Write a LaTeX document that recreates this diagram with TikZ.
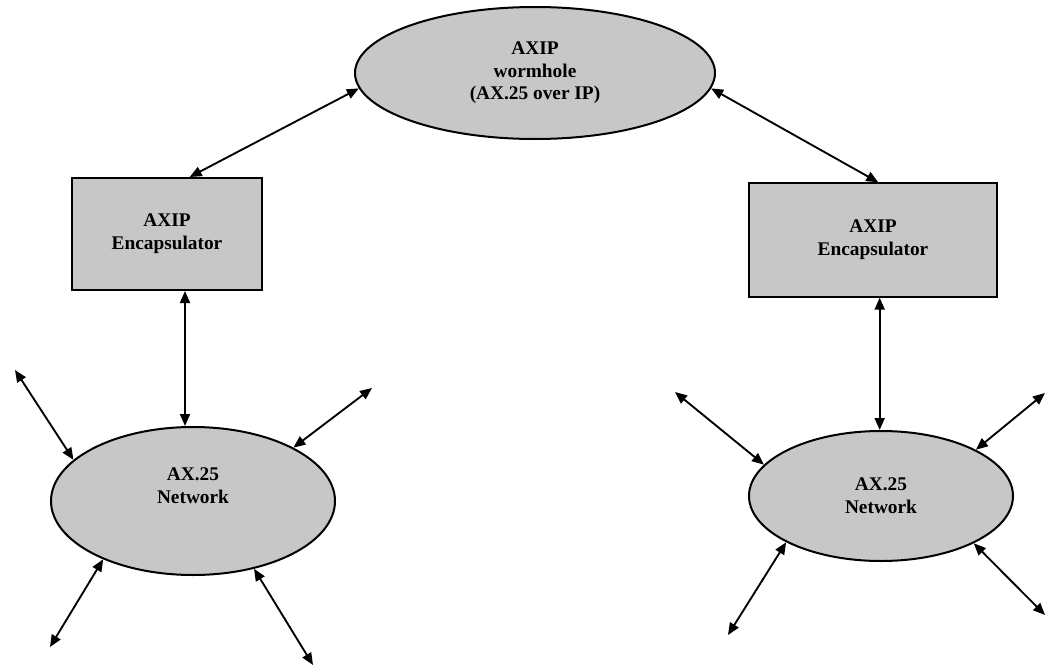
\documentclass[tikz,border=0pt]{standalone}
\usepackage{fontspec}
\setmainfont{Liberation Serif}
\usetikzlibrary{positioning, arrows.meta, shapes.geometric}

\begin{document}
\begin{tikzpicture}[
    x=0.75pt, y=-0.75pt,
    % --- STYLES ---
    cloud/.style={
            ellipse,
            draw=black,
            line width=1.5pt,
            fill=black!22,
            inner sep=0pt,
            align=center,
            font=\bfseries\fontsize{14.5}{17}\selectfont
        },
    encbox/.style={
            rectangle,
            draw=black,
            line width=1.5pt,
            fill=black!22,
            inner sep=0pt,
            align=center,
            font=\bfseries\fontsize{14.5}{17}\selectfont
        },
    link/.style={
            {Triangle[length=9pt,width=7.5pt]}-{Triangle[length=9pt,width=7.5pt]},
            line width=1.4pt,
            color=black
        }
    ]
    \useasboundingbox (0,0) rectangle (1047,671);

    % --- WORMHOLE + ENCAPSULATORS ---
    \node[cloud, minimum width=270pt, minimum height=99pt] (worm) at (535,73) {AXIP\\wormhole\\(AX.25 over IP)};
    \node[encbox, minimum width=142.5pt, minimum height=84pt] (lenc) at (167,234) {AXIP\\Encapsulator};
    \node[encbox, minimum width=186pt, minimum height=85pt] (renc) at (873,240) {AXIP\\Encapsulator};

    % --- AX.25 NETWORKS ---
    \node[cloud, minimum width=213pt, minimum height=111pt] (lnet) at (193,501) {AX.25\\Network\\[6pt]};
    \node[cloud, minimum width=198pt, minimum height=97.5pt] (rnet) at (881,496) {AX.25\\Network};

    % free ends of the stations
    \coordinate (lnw) at (15,370);
    \coordinate (lne) at (372,388);
    \coordinate (lsw) at (50,647);
    \coordinate (lse) at (313,665);
    \coordinate (rnw) at (675,392);
    \coordinate (rne) at (1045,393);
    \coordinate (rsw) at (728,635);
    \coordinate (rse) at (1045,615);
    \coordinate (ldrop) at ([xshift=13.5pt]lenc.south);
    \coordinate (rdrop) at ([xshift=5pt]renc.south);

    % --- LINKS ---
    \draw[link] (worm.185) -- ([xshift=17pt]lenc.north);
    \draw[link] (worm.-5) -- ([xshift=4pt]renc.north);
    \draw[link] (ldrop) -- (ldrop |- lnet.north);
    \draw[link] (rdrop) -- (rdrop |- rnet.north);

    % stations round the networks
    \draw[link] (lnw) -- (lnet.161.6);
    \draw[link] (lne) -- (lnet.28.9);
    \draw[link] (lsw) -- (lnet.213.8);
    \draw[link] (lse) -- (lnet.-48.6);
    \draw[link] (rnw) -- (rnet.165.3);
    \draw[link] (rne) -- (rnet.26.3);
    \draw[link] (rsw) -- (rnet.206.8);
    \draw[link] (rse) -- (rnet.-27.3);

\end{tikzpicture}
\end{document}
